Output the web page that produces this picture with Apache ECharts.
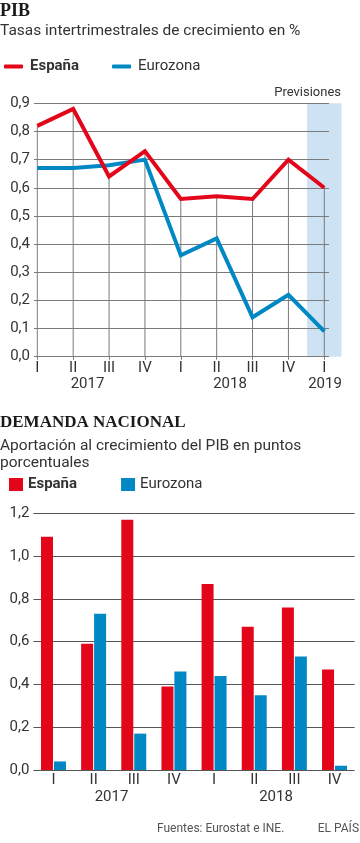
<!DOCTYPE html>
<html>
<head>
<meta charset="utf-8">
<script src="https://cdn.jsdelivr.net/npm/echarts@6/dist/echarts.min.js"></script>
<style>
html,body{margin:0;padding:0;background:#fff;}
#chart{width:360px;height:843px;}
</style>
</head>
<body>
<div id="chart"></div>
<script>
// ---- Data ----
const gdpQuarters = ['I', 'II', 'III', 'IV', 'I', 'II', 'III', 'IV', 'I'];
const gdpYears = ['2017', '2018', '2019'];
const gdpSpain = [0.82, 0.88, 0.64, 0.73, 0.56, 0.57, 0.56, 0.70, 0.60];
const gdpEuro = [0.67, 0.67, 0.68, 0.70, 0.36, 0.42, 0.14, 0.22, 0.09];
const gdpForecast = [null, null, null, null, null, null, null, null, 0.9];
const gdpTicks = [0, 0.9, 0.1];

const demandQuarters = ['I', 'II', 'III', 'IV', 'I', 'II', 'III', 'IV'];
const demandYears = ['2017', '2018'];
const demandSpain = [1.09, 0.59, 1.17, 0.39, 0.87, 0.67, 0.76, 0.47];
const demandEuro = [0.04, 0.73, 0.17, 0.46, 0.44, 0.35, 0.53, 0.02];
const demandTicks = [0, 1.2, 0.2];

const seriesNames = ['España', 'Eurozona'];

// ---- Style ----
const RED = '#e3061a';
const BLUE = '#0088c4';
const BAND = '#cde3f3';
const GRID = '#7a7a7a';
const TXT = '#333';
const SANS = 'Roboto, sans-serif';
const SERIF = '"Liberation Serif", serif';
const fmt = v => v.toFixed(1).replace('.', ',');

const chart = echarts.init(document.getElementById('chart'), null, {renderer: 'canvas'});

function txt(text, x, y, font, align, color) {
  return {type: 'text', x: x, y: y, silent: true, z: 10,
    style: {text: text, font: font, fill: color || TXT, align: align || 'left', verticalAlign: 'middle'}};
}

const option = {
  animation: false,
  backgroundColor: '#fff',
  grid: [
    {left: 34, right: 31, top: 103.3, bottom: 843 - 356.7},
    {left: 37.3, right: 360 - 324.3, top: 103.3, bottom: 843 - 356.7},
    {left: 33.4, right: 5.4, top: 513.3, bottom: 843 - 770}
  ],
  xAxis: [
    {gridIndex: 0, type: 'value', show: false, min: 0, max: 1},
    {gridIndex: 1, type: 'category', data: gdpQuarters, boundaryGap: false,
      axisLine: {show: false},
      axisTick: {show: true, length: 3, interval: 0, lineStyle: {color: GRID, width: 1}},
      axisLabel: {interval: 0, margin: 4, color: TXT, fontSize: 15, fontFamily: SANS},
      splitLine: {show: false}},
    {gridIndex: 2, type: 'category', data: demandQuarters, boundaryGap: true,
      axisLine: {show: false}, axisTick: {show: false},
      axisLabel: {interval: 0, margin: 3, color: TXT, fontSize: 15, fontFamily: SANS},
      splitLine: {show: false}},
    {gridIndex: 1, type: 'category', data: gdpQuarters, boundaryGap: false, show: false}
  ],
  yAxis: [
    {gridIndex: 0, type: 'value', min: gdpTicks[0], max: gdpTicks[1], interval: gdpTicks[2],
      axisLine: {show: false}, axisTick: {show: false},
      axisLabel: {formatter: fmt, margin: 4, color: TXT, fontSize: 15, fontFamily: SANS},
      splitLine: {show: true, lineStyle: {color: GRID, width: 1}}},
    {gridIndex: 1, type: 'value', min: gdpTicks[0], max: gdpTicks[1], show: false},
    {gridIndex: 2, type: 'value', min: demandTicks[0], max: demandTicks[1], interval: demandTicks[2],
      axisLine: {show: false}, axisTick: {show: false},
      axisLabel: {formatter: fmt, margin: 4, color: TXT, fontSize: 15, fontFamily: SANS},
      splitLine: {show: true, lineStyle: {color: '#555', width: 1}}}
  ],
  legend: [
    {left: 4, top: 59, padding: 0, itemWidth: 19, itemHeight: 4, itemGap: 33, icon: 'roundRect',
      data: seriesNames, selectedMode: false,
      itemStyle: {borderWidth: 0},
      lineStyle: {width: 0},
      textStyle: {fontSize: 15, fontFamily: SANS, color: TXT, padding: [0, 0, 0, 2],
        rich: {b: {fontWeight: 'bold', fontSize: 15, fontFamily: SANS, color: TXT}}},
      formatter: n => n === seriesNames[0] ? '{b|' + n + '}' : n},
    {left: 9, top: 477, padding: 0, itemWidth: 14, itemHeight: 13, itemGap: 44, icon: 'rect',
      data: seriesNames, selectedMode: false,
      itemStyle: {borderWidth: 0},
      textStyle: {fontSize: 15, fontFamily: SANS, color: TXT,
        rich: {b: {fontWeight: 'bold', fontSize: 15, fontFamily: SANS, color: TXT}}},
      formatter: n => n === seriesNames[0] ? '{b|' + n + '}' : n}
  ],
  series: [
    {type: 'bar', name: 'band', xAxisIndex: 3, yAxisIndex: 1, data: gdpForecast, barWidth: 34.4,
      clip: false, silent: true, z: -1, itemStyle: {color: BAND}},
    {type: 'bar', name: 'drop', xAxisIndex: 1, yAxisIndex: 1, data: gdpSpain, barWidth: 1,
      clip: false, silent: true, z: 1, itemStyle: {color: GRID}},
    {type: 'line', name: seriesNames[1], xAxisIndex: 1, yAxisIndex: 1, data: gdpEuro,
      symbol: 'none', z: 3, lineStyle: {color: BLUE, width: 4, join: 'miter'}, itemStyle: {color: BLUE}},
    {type: 'line', name: seriesNames[0], xAxisIndex: 1, yAxisIndex: 1, data: gdpSpain,
      symbol: 'none', z: 4, lineStyle: {color: RED, width: 4, join: 'miter'}, itemStyle: {color: RED}},
    {type: 'bar', name: seriesNames[0], xAxisIndex: 2, yAxisIndex: 2, data: demandSpain,
      barWidth: 12, barGap: '8%', itemStyle: {color: RED}},
    {type: 'bar', name: seriesNames[1], xAxisIndex: 2, yAxisIndex: 2, data: demandEuro,
      barWidth: 12, barGap: '8%', itemStyle: {color: BLUE}}
  ],
  graphic: [
    txt('PIB', 0, 11, 'bold 18px ' + SERIF, 'left', '#1a1a1a'),
    txt('Tasas intertrimestrales de crecimiento en %', 0, 31, '15.5px ' + SANS),
    txt('Previsiones', 341, 93, '13px ' + SANS, 'right'),
    txt(gdpYears[0], 87.5, 384, '15px ' + SANS, 'center'),
    txt(gdpYears[1], 230, 384, '15px ' + SANS, 'center'),
    txt(gdpYears[2], 325, 384, '15px ' + SANS, 'center'),
    txt('DEMANDA NACIONAL', 0, 423, 'bold 17px ' + SERIF, 'left', '#1a1a1a'),
    txt('Aportación al crecimiento del PIB en puntos', 0, 446, '15.5px ' + SANS),
    txt('porcentuales', 0, 463, '15.5px ' + SANS),
    txt(demandYears[0], 111.5, 797, '15px ' + SANS, 'center'),
    txt(demandYears[1], 276, 797, '15px ' + SANS, 'center'),
    txt('Fuentes: Eurostat e INE.', 157, 829, '12px ' + SANS, 'left', '#555'),
    txt('EL PAÍS', 359, 829, '12px ' + SANS, 'right', '#555')
  ]
};
chart.setOption(option);
</script>
</body>
</html>
